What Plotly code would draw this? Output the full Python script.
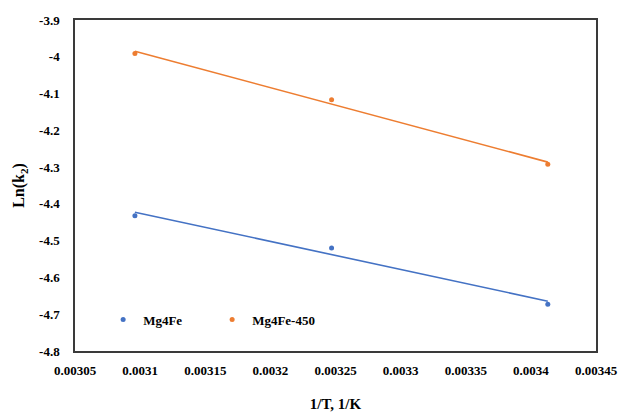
import numpy as np
import plotly.graph_objects as go

# Inverse temperature (1/K) and ln(k2) for each catalyst
inv_T = [0.003096, 0.003247, 0.003413]
ln_k2_mg4fe = [-4.432, -4.520, -4.673]
ln_k2_mg4fe_450 = [-3.991, -4.117, -4.292]

series = [
    ("Mg4Fe", ln_k2_mg4fe, "#4472C4"),
    ("Mg4Fe-450", ln_k2_mg4fe_450, "#ED7D31"),
]

x_ticks = [0.00305, 0.0031, 0.00315, 0.0032, 0.00325, 0.0033, 0.00335, 0.0034, 0.00345]
x_tick_text = ["0.00305", "0.0031", "0.00315", "0.0032", "0.00325", "0.0033", "0.00335", "0.0034", "0.00345"]
y_ticks = [-3.9, -4.0, -4.1, -4.2, -4.3, -4.4, -4.5, -4.6, -4.7, -4.8]
y_tick_text = ["-3.9", "-4", "-4.1", "-4.2", "-4.3", "-4.4", "-4.5", "-4.6", "-4.7", "-4.8"]

font_family = "Liberation Serif"


def bold(labels):
    return ["<b>%s</b>" % s for s in labels]


fig = go.Figure()

for name, values, color in series:
    # Linear (Arrhenius) trendline across the measured range
    slope, intercept = np.polyfit(inv_T, values, 1)
    x_fit = np.array([min(inv_T), max(inv_T)])
    fig.add_trace(go.Scatter(
        x=x_fit, y=slope * x_fit + intercept,
        mode="lines", line=dict(color=color, width=1.6),
        showlegend=False, hoverinfo="skip",
    ))
    fig.add_trace(go.Scatter(
        x=inv_T, y=values, name="<b>%s</b>" % name,
        mode="markers", marker=dict(color=color, size=5),
    ))

tick_font = dict(family=font_family, size=13, color="#000000")
axis_common = dict(
    showgrid=False, zeroline=False, automargin=False,
    showline=True, linecolor="#3a3a3a", linewidth=1.5, mirror=True,
    ticks="", tickfont=tick_font,
)

fig.update_layout(
    width=618, height=412,
    margin=dict(l=75, r=22, t=20, b=61),
    paper_bgcolor="white", plot_bgcolor="white",
    font=dict(family=font_family, color="#000000"),
    xaxis=dict(
        range=[0.00305, 0.00345], tickvals=x_ticks, ticktext=bold(x_tick_text),
        ticklabelstandoff=7,
        title=dict(text="<b>1/T, 1/K</b>", font=dict(family=font_family, size=15), standoff=30),
        **axis_common,
    ),
    yaxis=dict(
        range=[-4.8, -3.9], tickvals=y_ticks, ticktext=bold(y_tick_text),
        ticklabelstandoff=11,
        title=dict(text="<b>Ln(k<sub>2</sub>)</b>", font=dict(family=font_family, size=16), standoff=10),
        **axis_common,
    ),
    legend=dict(
        orientation="h", x=0.054, y=0.095, xanchor="left", yanchor="middle",
        bgcolor="rgba(0,0,0,0)", font=dict(family=font_family, size=13),
        itemwidth=30, entrywidth=64, entrywidthmode="pixels",
    ),
)

fig.write_html("out.html")
